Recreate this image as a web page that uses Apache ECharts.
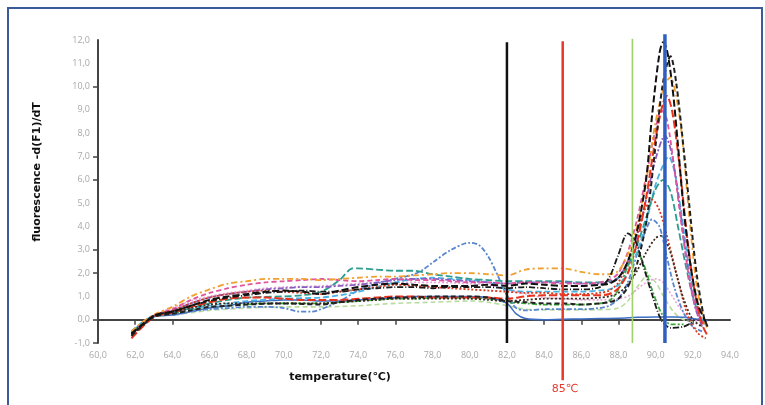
<!DOCTYPE html>
<html>
<head>
<meta charset="utf-8">
<script src="https://cdn.jsdelivr.net/npm/echarts@6/dist/echarts.min.js"></script>
<style>
  html, body { margin: 0; padding: 0; background: #fff; }
  #chart { width: 765px; height: 405px; }
</style>
</head>
<body>
<div id="chart"></div>
<script>
// 温度刻度
var yTicks = [-1, 0, 2, 3, 6, 7, 10];
var xTicks = [60, 62, 64, 72, 74, 76, 82, 84, 86, 88, 92];

// 熔解曲线数据 [温度, -dF/dT]
var blackA = [[61.8,-0.6],[62.4,-0.2],[63.1,0.2],[64,0.35],[65,0.6],[66,0.85],[67,1.0],[68,1.1],[69,1.2],[70,1.25],[71,1.2],[72,1.1],[73,1.25],[74,1.4],[75,1.5],[76,1.55],[77,1.5],[78,1.45],[79,1.45],[80,1.45],[81,1.5],[82,1.45],[83,1.55],[84,1.5],[85,1.45],[86,1.45],[87,1.5],[87.5,1.55],[88,1.8],[88.5,2.5],[89,3.8],[89.5,6.1],[89.8,8.7],[90.2,11.4],[90.4,11.9],[90.6,11.6],[90.9,10.0],[91.2,7.5],[91.5,4.8],[91.9,2.2],[92.3,0.6],[92.7,-0.1]];
var blackB = [[61.8,-0.7],[62.4,-0.25],[63.1,0.15],[64,0.25],[65,0.4],[66,0.55],[67,0.6],[68,0.65],[70,0.7],[72,0.65],[73,0.75],[74,0.85],[75,0.9],[76,0.95],[77,0.95],[78,1.0],[79,1.0],[80,1.0],[81,0.95],[82,0.8],[83,0.75],[84,0.7],[85,0.7],[86,0.65],[87,0.7],[87.5,0.75],[88,0.9],[88.5,1.4],[89,2.4],[89.5,4.2],[90,7.5],[90.4,10.2],[90.8,11.3],[91.1,10.2],[91.55,7.0],[91.8,5.0],[92.2,2.0],[92.6,0.1],[92.8,-0.3]];
var orange = [[61.8,-0.5],[62.4,-0.1],[63.1,0.25],[64,0.55],[65,1.0],[66,1.3],[67,1.55],[68,1.65],[69,1.75],[70,1.75],[71,1.75],[72,1.7],[73,1.75],[74,1.8],[75,1.85],[76,1.85],[77,1.9],[78,1.95],[79,2.0],[80,2.0],[81,1.95],[82,1.9],[83,2.15],[84,2.2],[85,2.2],[86,2.05],[87,1.95],[87.5,1.95],[88,2.1],[88.5,2.8],[89,4.0],[89.5,6.0],[90,8.5],[90.5,10.1],[90.8,10.4],[91.1,9.6],[91.4,8.0],[91.8,4.5],[92.2,1.5],[92.6,0.0],[92.8,-0.4]];
var teal = [[61.8,-0.5],[62.4,-0.15],[63.1,0.2],[64,0.3],[65,0.5],[66,0.7],[67,0.85],[68,0.95],[70,1.0],[71,1.05],[72,1.2],[73,1.7],[73.7,2.2],[74,2.2],[75,2.15],[76,2.1],[77,2.1],[78,1.95],[79,1.85],[80,1.75],[81,1.7],[82,1.65],[83,1.65],[84,1.65],[85,1.65],[86,1.6],[87,1.6],[87.5,1.65],[88,1.8],[88.5,2.3],[89,3.2],[89.5,4.4],[90,5.6],[90.4,6.0],[90.8,5.5],[91.2,4.0],[91.6,2.4],[92,1.0],[92.4,0.1],[92.8,-0.3]];
var pink = [[61.8,-0.6],[62.4,-0.2],[63.1,0.2],[64,0.45],[65,0.85],[66,1.15],[67,1.35],[68,1.5],[69,1.6],[70,1.65],[71,1.7],[72,1.75],[73,1.7],[74,1.65],[75,1.7],[76,1.75],[77,1.7],[78,1.7],[79,1.65],[80,1.6],[81,1.6],[82,1.55],[83,1.6],[84,1.6],[85,1.55],[86,1.55],[87,1.6],[87.5,1.7],[88,2.0],[88.5,2.9],[89,4.3],[89.5,6.2],[90,8.2],[90.3,9.0],[90.6,8.6],[91,6.5],[91.4,4.0],[91.8,1.8],[92.2,0.4],[92.6,-0.2]];
var redDash = [[61.8,-0.8],[62.4,-0.3],[63.1,0.15],[64,0.3],[65,0.55],[66,0.75],[67,0.9],[68,0.95],[69,0.95],[70,0.9],[71,0.85],[72,0.85],[73,0.85],[74,0.9],[75,0.95],[76,1.0],[77,1.0],[78,0.95],[79,0.95],[80,0.95],[81,0.95],[82,0.9],[83,1.0],[84,1.05],[85,1.05],[86,1.05],[87,1.05],[87.5,1.1],[88,1.35],[88.5,2.0],[89,3.3],[89.5,5.3],[90,7.8],[90.4,9.3],[90.6,9.6],[90.9,8.9],[91.3,6.5],[91.7,3.5],[92.1,1.2],[92.5,-0.2],[92.8,-0.7]];
var redDot = [[61.8,-0.7],[62.4,-0.25],[63.1,0.2],[64,0.4],[65,0.7],[66,0.95],[67,1.1],[68,1.2],[69,1.25],[70,1.2],[71,1.15],[72,1.1],[73,1.2],[74,1.3],[75,1.4],[76,1.5],[77,1.45],[78,1.4],[79,1.35],[80,1.3],[81,1.25],[82,1.2],[83,1.15],[84,1.15],[85,1.1],[86,1.1],[87,1.15],[87.5,1.25],[88,1.6],[88.5,2.5],[89,3.7],[89.4,4.7],[89.8,5.15],[90.2,4.7],[90.75,3.15],[91.2,1.7],[91.8,0.0],[92.3,-0.6],[92.7,-0.8]];
var blueBump = [[61.8,-0.5],[62.4,-0.15],[63.1,0.2],[64,0.2],[65,0.35],[66,0.45],[67,0.5],[68,0.55],[69,0.55],[70,0.5],[70.8,0.35],[71.5,0.35],[72,0.45],[73,0.8],[74,1.25],[75,1.55],[76,1.75],[77,1.95],[77.5,2.15],[78,2.45],[79,3.0],[80,3.3],[80.5,3.2],[81,2.7],[81.5,1.9],[82,1.05],[82.5,0.5],[83,0.4],[84,0.45],[85,0.45],[86,0.45],[87,0.5],[87.5,0.6],[88,0.9],[88.5,1.6],[89,2.8],[89.5,3.9],[89.8,4.3],[90.2,4.0],[90.6,2.7],[91,1.4],[91.5,0.3],[92,-0.3],[92.5,-0.5]];
var blueSolid = [[61.8,-0.55],[62.4,-0.15],[63.1,0.15],[64,0.2],[65,0.35],[66,0.5],[67,0.6],[68,0.75],[69,0.8],[70,0.85],[71,0.85],[72,0.8],[73,0.8],[74,0.85],[75,0.9],[76,0.95],[77,1.0],[78,1.0],[79,1.0],[80,1.0],[81,0.95],[82,0.7],[82.5,0.25],[83,0.05],[84,0.0],[85,0.02],[86,0.03],[87,0.05],[88,0.06],[89,0.1],[90,0.12],[91,0.12],[91.5,0.1],[92,0.05],[92.5,0.0],[92.8,-0.05]];
var blackDashDot = [[61.8,-0.6],[62.4,-0.2],[63.1,0.2],[64,0.35],[65,0.6],[66,0.8],[67,0.95],[68,1.05],[69,1.15],[70,1.2],[71,1.25],[72,1.2],[73,1.2],[74,1.3],[75,1.35],[76,1.4],[77,1.4],[78,1.35],[79,1.4],[80,1.4],[81,1.4],[82,1.35],[83,1.4],[84,1.35],[85,1.3],[86,1.3],[87,1.4],[87.5,1.8],[88,2.8],[88.5,3.7],[88.9,3.4],[89.3,2.4],[89.8,1.1],[90.3,0.0],[90.8,-0.35],[91.5,-0.3],[92,-0.1]];
var darkDot = [[61.8,-0.65],[62.4,-0.2],[63.1,0.2],[64,0.3],[65,0.5],[66,0.65],[67,0.7],[68,0.7],[70,0.7],[72,0.7],[73,0.75],[74,0.8],[75,0.85],[76,0.9],[77,0.9],[78,0.9],[79,0.9],[80,0.9],[81,0.85],[82,0.8],[83,0.85],[84,0.9],[85,0.9],[86,0.9],[87,0.95],[87.5,1.0],[88,1.15],[88.5,1.5],[89,2.1],[89.5,2.9],[90,3.5],[90.3,3.6],[90.7,3.1],[91.1,2.0],[91.5,0.9],[92,0.0],[92.5,-0.3]];
var green = [[61.8,-0.55],[62.4,-0.2],[63.1,0.15],[64,0.25],[65,0.4],[66,0.5],[67,0.6],[68,0.65],[69,0.7],[70,0.7],[71,0.7],[72,0.7],[73,0.75],[74,0.8],[75,0.85],[76,0.9],[77,0.9],[78,0.95],[79,0.95],[80,0.95],[81,0.9],[82,0.75],[83,0.7],[84,0.65],[85,0.65],[86,0.65],[87,0.7],[87.5,0.8],[88,1.3],[88.5,2.3],[88.9,3.0],[89.3,2.5],[89.8,1.3],[90.3,0.3],[90.8,-0.2],[91.5,-0.2]];
var lightGreen = [[61.8,-0.5],[62.4,-0.15],[63.1,0.15],[64,0.2],[65,0.3],[66,0.4],[67,0.45],[68,0.5],[70,0.55],[72,0.55],[74,0.6],[76,0.7],[78,0.75],[80,0.8],[81,0.75],[82,0.6],[83,0.45],[84,0.42],[85,0.42],[86,0.42],[87,0.43],[88,0.5],[88.5,0.8],[89,1.4],[89.6,1.9],[90,1.6],[90.5,0.9],[91,0.3],[91.5,0.0],[92,-0.1]];
var lightPink = [[61.8,-0.5],[62.4,-0.1],[63.1,0.25],[64,0.5],[65,0.8],[66,1.0],[67,1.15],[68,1.25],[69,1.35],[70,1.4],[72,1.45],[74,1.55],[76,1.6],[78,1.6],[80,1.55],[81,1.5],[82,1.3],[83,1.1],[84,0.95],[85,0.9],[86,0.85],[87,0.85],[88,0.9],[88.5,1.0],[89,1.3],[89.5,1.6],[90,1.75],[90.4,1.6],[90.9,1.0],[91.4,0.4],[92,0.0],[92.5,-0.1]];
var purple = [[61.8,-0.6],[62.4,-0.2],[63.1,0.2],[64,0.4],[65,0.7],[66,0.95],[67,1.1],[68,1.2],[69,1.3],[70,1.35],[71,1.4],[72,1.4],[73,1.45],[74,1.5],[75,1.6],[76,1.7],[77,1.75],[78,1.75],[79,1.7],[80,1.65],[81,1.6],[82,1.55],[83,1.6],[84,1.6],[85,1.6],[86,1.55],[87,1.55],[87.5,1.6],[88,1.8],[88.5,2.5],[89,3.6],[89.5,5.2],[90,6.9],[90.5,7.9],[90.9,7.0],[91.3,4.8],[91.7,2.4],[92.1,0.6],[92.5,-0.3]];
var cyan = [[61.8,-0.5],[62.4,-0.1],[63.1,0.2],[64,0.3],[65,0.45],[66,0.6],[67,0.7],[68,0.8],[70,0.9],[72,0.95],[73,1.05],[74,1.2],[75,1.4],[76,1.6],[77,1.75],[78,1.8],[79,1.75],[80,1.7],[81,1.6],[82,1.3],[83,1.2],[84,1.2],[85,1.2],[86,1.2],[87,1.25],[87.5,1.3],[88,1.5],[88.5,2.0],[89,2.9],[89.5,4.2],[90,5.8],[90.5,6.8],[90.7,7.0],[91,6.4],[91.4,4.5],[91.8,2.2],[92.2,0.6],[92.6,-0.2]];

// 竖直参考线
var lineBlack = [[82, -1], [82, 11.9]];
var lineRed = [[85, -2.6], [85, 11.95]];
var lineGreen = [[88.75, -1], [88.75, 12.05]];
var lineBlue = [[90.5, -1], [90.5, 12.25]];

var curves = [
    { data: lightGreen, color: '#b9dba0', type: [5, 3], width: 1.6 },
    { data: lightPink, color: '#e6a6d8', type: [2, 2], width: 1.6 },
    { data: green, color: '#3ca83c', type: [5, 2, 2, 2], width: 1.8 },
    { data: blueSolid, color: '#3c6ec4', type: 'solid', width: 1.5 },
    { data: blueBump, color: '#5a86cf', type: [5, 2, 2, 2], width: 1.8 },
    { data: cyan, color: '#4ab2e2', type: [6, 3], width: 1.8 },
    { data: teal, color: '#2c9c8e', type: [7, 3], width: 1.8 },
    { data: purple, color: '#8a5cc0', type: [6, 2, 2, 2], width: 1.8 },
    { data: pink, color: '#e0559c', type: [5, 3], width: 1.8 },
    { data: orange, color: '#f0a02e', type: [6, 3, 2, 3], width: 1.8 },
    { data: redDot, color: '#d8381e', type: [2, 2], width: 1.8 },
    { data: redDash, color: '#e8321e', type: [8, 3], width: 2 },
    { data: darkDot, color: '#3a2a20', type: [2, 2], width: 1.8 },
    { data: blackDashDot, color: '#1a1a1a', type: [6, 2, 1, 2], width: 1.8 },
    { data: blackB, color: '#222', type: [5, 3], width: 2 },
    { data: blackA, color: '#111', type: [7, 3], width: 2 }
];

var series = curves.map(function (c) {
    return {
        type: 'line',
        data: c.data,
        smooth: 0.3,
        showSymbol: false,
        silent: true,
        lineStyle: { color: c.color, type: c.type, width: c.width }
    };
});

function vline(data, color, width) {
    return {
        type: 'line',
        data: data,
        clip: false,
        showSymbol: false,
        silent: true,
        lineStyle: { color: color, width: width }
    };
}
series.push(vline(lineBlack, '#111', 2.5));
series.push(vline(lineRed, '#e8382a', 2.5));
series.push(vline(lineGreen, '#9fd06a', 1.6));
series.push(vline(lineBlue, '#2f5fbf', 3.5));

var fmt = function (v) { return v.toFixed(1).replace('.', ','); };

var myChart = echarts.init(document.getElementById('chart'));
var option = {
    animation: false,
    backgroundColor: '#fff',
    grid: { left: 98, right: 35, top: 40, bottom: 62, containLabel: false, outerBoundsMode: 'none' },
    xAxis: {
        type: 'value',
        min: 60,
        max: 94,
        interval: 2,
        splitLine: { show: false },
        axisLine: { lineStyle: { color: '#444', width: 2 } },
        axisTick: { show: true, length: 5, customValues: xTicks, lineStyle: { color: '#444', width: 1.5 } },
        axisLabel: { formatter: fmt, color: '#a8a8a8', fontSize: 9, fontFamily: 'Open Sans', margin: 8 }
    },
    yAxis: {
        type: 'value',
        min: -1,
        max: 12,
        interval: 1,
        splitLine: { show: false },
        axisLine: { show: true, lineStyle: { color: '#444', width: 2 } },
        axisTick: { show: true, length: 5, customValues: yTicks, lineStyle: { color: '#444', width: 1.5 } },
        axisLabel: { formatter: fmt, color: '#a8a8a8', fontSize: 9, fontFamily: 'Open Sans', margin: 8 }
    },
    graphic: [
        {
            type: 'rect',
            shape: { x: 8, y: 8, width: 754, height: 410 },
            style: { fill: 'none', stroke: '#3a5a9a', lineWidth: 2 },
            silent: true
        },
        {
            type: 'text',
            x: 37, y: 172,
            rotation: Math.PI / 2,
            style: { text: 'fluorescence -d(F1)/dT', font: 'bold 11px "DejaVu Sans"', fill: '#111', textAlign: 'center', textVerticalAlign: 'middle' }
        },
        {
            type: 'text',
            x: 340, y: 377,
            style: { text: 'temperature(℃)', font: 'bold 11px "DejaVu Sans"', fill: '#111', textAlign: 'center', textVerticalAlign: 'middle' }
        },
        {
            type: 'text',
            x: 565, y: 389,
            style: { text: '85℃', font: '11px "DejaVu Sans"', fill: '#e8382a', textAlign: 'center', textVerticalAlign: 'middle' }
        }
    ],
    series: series
};
myChart.setOption(option);

window.onresize = function () {
    myChart.resize();
};
</script>
</body>
</html>
